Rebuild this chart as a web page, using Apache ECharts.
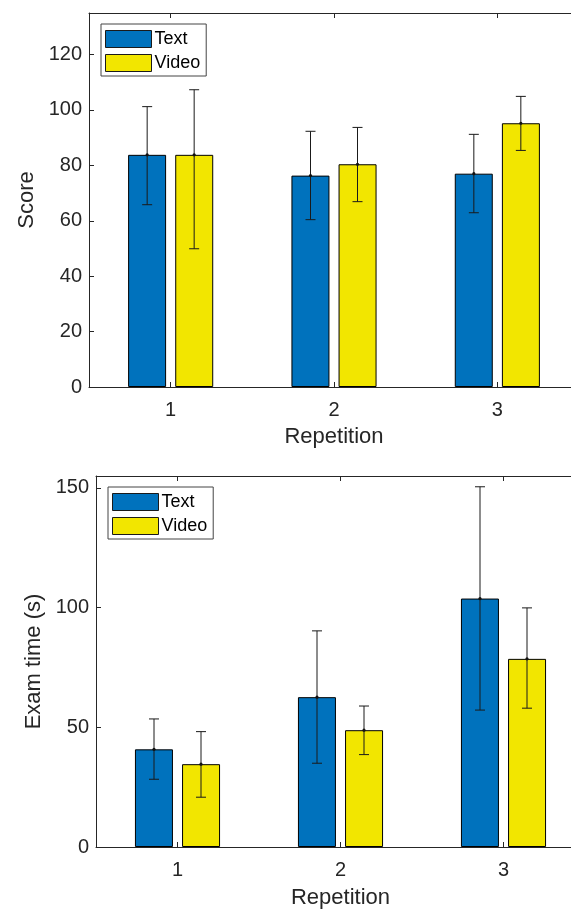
<!DOCTYPE html>
<html>
<head>
<meta charset="utf-8">
<script src="https://cdn.jsdelivr.net/npm/echarts@6/dist/echarts.min.js"></script>
<style>
html,body{margin:0;padding:0;background:#fff;overflow:hidden;width:571px;height:910px;}
#c{width:600px;height:910px;}
</style>
</head>
<body>
<div id="c"></div>
<script>
// ---- data ----
const categories = ['1', '2', '3'];
const seriesNames = ['Text', 'Video'];

const scoreText = [83.8, 76.3, 77.0];
const scoreTextLow = [65.8, 60.4, 62.9];
const scoreTextHigh = [101.2, 92.3, 91.2];
const scoreVideo = [83.8, 80.4, 95.2];
const scoreVideoLow = [49.9, 66.9, 85.4];
const scoreVideoHigh = [107.3, 93.7, 104.9];

const timeText = [40.8, 62.6, 103.8];
const timeTextLow = [28.3, 35.0, 57.2];
const timeTextHigh = [53.5, 90.3, 150.5];
const timeVideo = [34.6, 48.8, 78.6];
const timeVideoLow = [20.8, 38.6, 58.0];
const timeVideoHigh = [48.2, 58.9, 99.9];

const scoreTicks = [0, 20, 40, 60, 80, 100, 120];
const timeTicks = [0, 50, 100, 150];

// ---- style ----
const FONT = 'Liberation Sans';
const AX = '#262626';
const BLUE = '#0072BD';
const YELLOW = '#F2E600';
const BAR_W = 38;
const OFFSET = 23.5;

function errData(low, high, mean) {
  return categories.map((c, i) => [i, low[i], high[i], mean[i]]);
}

function errSeries(name, low, high, mean, dx, gi) {
  return {
    type: 'custom',
    name: name,
    xAxisIndex: gi * 2,
    yAxisIndex: gi,
    z: 5,
    silent: true,
    data: errData(low, high, mean),
    renderItem: function (params, api) {
      const pLow = api.coord([api.value(0), api.value(1)]);
      const pHigh = api.coord([api.value(0), api.value(2)]);
      const pMean = api.coord([api.value(0), api.value(3)]);
      const x = pLow[0] + dx;
      const cap = 5;
      const st = { stroke: '#1a1a1a', lineWidth: 1 };
      return {
        type: 'group',
        children: [
          { type: 'line', shape: { x1: x, y1: pLow[1], x2: x, y2: pHigh[1] }, style: st },
          { type: 'line', shape: { x1: x - cap, y1: pLow[1], x2: x + cap, y2: pLow[1] }, style: st },
          { type: 'line', shape: { x1: x - cap, y1: pHigh[1], x2: x + cap, y2: pHigh[1] }, style: st },
          { type: 'circle', shape: { cx: x, cy: pMean[1], r: 1.6 }, style: { fill: '#111' } }
        ]
      };
    }
  };
}

function barSeries(name, data, color, gi) {
  return {
    type: 'bar',
    name: name,
    xAxisIndex: gi * 2,
    yAxisIndex: gi,
    data: data,
    barWidth: BAR_W,
    barGap: '24%',
    itemStyle: { color: color, borderColor: '#000', borderWidth: 1 },
    emphasis: { disabled: true }
  };
}

function xAxes(gi, gap) {
  return [
    {
      type: 'category', gridIndex: gi, data: categories, position: 'bottom',
      name: 'Repetition', nameLocation: 'middle', nameGap: gap,
      nameTextStyle: { fontFamily: FONT, fontSize: 22, color: AX },
      axisLine: { show: true, lineStyle: { color: AX, width: 1 } },
      axisTick: { show: true, inside: true, alignWithLabel: true, length: 5, lineStyle: { color: AX } },
      axisLabel: { fontFamily: FONT, fontSize: 20, color: AX, margin: 13 },
      splitLine: { show: false }
    },
    {
      type: 'category', gridIndex: gi, data: categories, position: 'top',
      axisLine: { show: true, lineStyle: { color: AX, width: 1 } },
      axisTick: { show: true, inside: true, alignWithLabel: true, length: 5, lineStyle: { color: AX } },
      axisLabel: { show: false },
      splitLine: { show: false }
    }
  ];
}

function yAxis(gi, name, max, interval, ticks, gap) {
  return {
    type: 'value', gridIndex: gi, min: 0, max: max, interval: interval,
    name: name, nameLocation: 'middle', nameGap: gap,
    nameTextStyle: { fontFamily: FONT, fontSize: 22, color: AX },
    axisLine: { show: true, lineStyle: { color: AX, width: 1 } },
    axisTick: { show: true, inside: true, length: 5, lineStyle: { color: AX }, customValues: ticks },
    axisLabel: { fontFamily: FONT, fontSize: 20, color: AX, margin: 7, customValues: ticks },
    splitLine: { show: false }
  };
}

function legend(left, top) {
  return {
    data: seriesNames, left: left, top: top, orient: 'vertical',
    itemWidth: 46, itemHeight: 17, itemGap: 6,
    padding: [6, 6, 4, 4],
    borderColor: '#444', borderWidth: 1, backgroundColor: '#fff',
    icon: 'rect',
    itemStyle: { borderWidth: 1, borderColor: '#1a1a1a' },
    textStyle: { fontFamily: FONT, fontSize: 18, color: '#000', padding: [0, 0, 0, -2] },
    selectedMode: false
  };
}

const chart = echarts.init(document.getElementById('c'), null, { renderer: 'canvas' });
chart.setOption({
  animation: false,
  backgroundColor: '#fff',
  grid: [
    { left: 89, top: 13, width: 490, height: 374, containLabel: false },
    { left: 96, top: 476, width: 489, height: 371, containLabel: false }
  ],
  xAxis: [].concat(xAxes(0, 39), xAxes(1, 40)),
  yAxis: [
    yAxis(0, 'Score', 135, 20, scoreTicks, 51),
    yAxis(1, 'Exam time (s)', 155, 50, timeTicks, 50)
  ],
  legend: [legend(101, 24), legend(108, 487)],
  series: [
    barSeries('Text', scoreText, BLUE, 0),
    barSeries('Video', scoreVideo, YELLOW, 0),
    errSeries('errScoreText', scoreTextLow, scoreTextHigh, scoreText, -OFFSET, 0),
    errSeries('errScoreVideo', scoreVideoLow, scoreVideoHigh, scoreVideo, OFFSET, 0),
    barSeries('Text', timeText, BLUE, 1),
    barSeries('Video', timeVideo, YELLOW, 1),
    errSeries('errTimeText', timeTextLow, timeTextHigh, timeText, -OFFSET, 1),
    errSeries('errTimeVideo', timeVideoLow, timeVideoHigh, timeVideo, OFFSET, 1)
  ]
});
</script>
</body>
</html>
